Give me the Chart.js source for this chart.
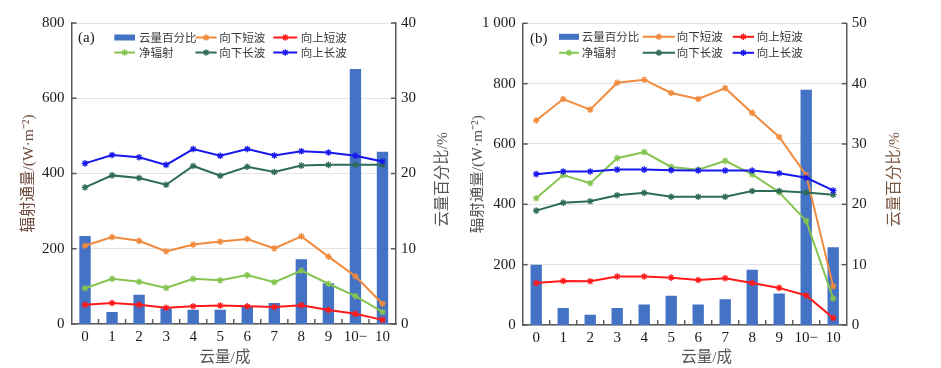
<!DOCTYPE html>
<html><head><meta charset="utf-8">
<script src="https://cdn.jsdelivr.net/npm/chart.js@4/dist/chart.umd.min.js"></script>
<style>
html,body{margin:0;padding:0;background:#fff;}
#wrap{position:relative;width:941px;height:368px;background:#fff;}
canvas{position:absolute;top:0;}
</style></head><body>
<div id="wrap">
<canvas id="ca" width="470" height="368" style="left:0px"></canvas>
<canvas id="cb" width="471" height="368" style="left:470px"></canvas>
</div>
<script>
// ---------- data ----------
const categories = ['0','1','2','3','4','5','6','7','8','9','10\u2212','10'];
const seriesLabels = ['云量百分比','向下短波','向上短波','净辐射','向下长波','向上长波'];
const xTitle = '云量/成';
const leftTitle = '辐射通量/(W·m⁻²)';
const rightTitle = '云量百分比/%';

// panel (a)
const cloudA   = [11.7, 1.6, 3.9, 2.1, 1.9, 1.9, 2.3, 2.8, 8.6, 5.4, 33.9, 22.9];
const swDownA  = [208, 231, 221, 193, 211, 219, 226, 201, 233, 179, 127, 54];
const swUpA    = [51, 56, 51, 43, 47, 49, 47, 45, 50, 37, 27, 11];
const netA     = [95, 120, 112, 96, 120, 116, 130, 111, 142, 107, 74, 32];
const lwDownA  = [363, 395, 388, 370, 420, 394, 418, 404, 421, 423, 423, 423];
const lwUpA    = [427, 449, 443, 423, 465, 447, 465, 448, 459, 456, 447, 432];
const leftTicksA  = ['0','200','400','600','800'];
const rightTicksA = ['0','10','20','30','40'];

// panel (b)
const cloudB   = [10.0, 2.8, 1.7, 2.8, 3.4, 4.85, 3.4, 4.25, 9.15, 5.2, 39.0, 12.9];
const swDownB  = [678, 749, 714, 803, 813, 769, 749, 785, 703, 623, 497, 128];
const swUpB    = [139, 146, 145, 161, 161, 157, 149, 155, 139, 123, 98, 23];
const netB     = [420, 497, 470, 553, 573, 524, 515, 544, 499, 440, 345, 88];
const lwDownB  = [379, 405, 410, 430, 438, 425, 425, 425, 444, 444, 439, 432];
const lwUpB    = [500, 509, 509, 515, 515, 513, 512, 512, 512, 503, 488, 446];
const leftTicksB  = ['0','200','400','600','800','1 000'];
const rightTicksB = ['0','10','20','30','40','50'];

// ---------- style ----------
const COLORS = ['#4472C4', '#F08A3C', '#FF1A1A', '#86C451', '#2E6B5B', '#1717EE'];
const AXIS = '#5a5a5a';
const NUMFONT = '"Liberation Serif", "Noto Sans CJK SC", serif';
const CJKFONT = '"Liberation Serif", "Noto Sans CJK SC", sans-serif';

function drawStar(ctx, x, y, r) {
  ctx.beginPath();
  for (let k = 0; k < 4; k++) {
    const a = k * Math.PI / 4;
    ctx.moveTo(x - r * Math.cos(a), y - r * Math.sin(a));
    ctx.lineTo(x + r * Math.cos(a), y + r * Math.sin(a));
  }
  ctx.stroke();
}

const deco = {
  id: 'deco',
  afterDraw(chart, args, o) {
    const ctx = chart.ctx, ca = chart.chartArea;
    const xs = chart.scales.x, ys = chart.scales.y, y1 = chart.scales.y1;
    ctx.save();
    ctx.strokeStyle = AXIS; ctx.lineWidth = 1.5;
    const seg = (a, b, c, d) => { ctx.beginPath(); ctx.moveTo(a, b); ctx.lineTo(c, d); ctx.stroke(); };
    ys.ticks.forEach(t => { const p = ys.getPixelForValue(t.value); seg(ca.left, p, ca.left + 5, p); });
    y1.ticks.forEach(t => { const p = y1.getPixelForValue(t.value); seg(ca.right - 5, p, ca.right, p); });
    for (let i = 0; i < categories.length - 1; i++) {
      const p = (xs.getPixelForValue(i) + xs.getPixelForValue(i + 1)) / 2;
      seg(p, ca.bottom - 5, p, ca.bottom);
    }
    // panel tag
    ctx.fillStyle = '#222'; ctx.textBaseline = 'middle'; ctx.textAlign = 'left';
    ctx.font = '15px ' + NUMFONT;
    ctx.fillText(o.tag, ca.left + o.tagX, ca.top + o.tagY);
    // legend
    chart.data.datasets.forEach((d, i) => {
      const col = i % 3, row = Math.floor(i / 3);
      const yy = ca.top + o.rows[row];
      const c = o.cols[col];
      if (d.type === 'bar') {
        ctx.fillStyle = d.backgroundColor;
        ctx.fillRect(ca.left + c[0], yy - 3, c[1] - c[0], 6);
      } else {
        ctx.strokeStyle = d.borderColor; ctx.lineWidth = 2;
        seg(ca.left + c[0], yy, ca.left + c[1], yy);
        ctx.lineWidth = 1.3;
        drawStar(ctx, ca.left + (c[0] + c[1]) / 2, yy, 3.2);
      }
      ctx.fillStyle = '#3a3a3a';
      ctx.font = '11.5px "Noto Sans CJK SC", sans-serif';
      ctx.textAlign = 'left'; ctx.textBaseline = 'middle';
      ctx.fillText(d.label, ca.left + c[2], yy);
    });
    // x title
    ctx.fillStyle = '#555'; ctx.textAlign = 'center'; ctx.textBaseline = 'middle';
    ctx.font = '15.5px ' + CJKFONT;
    ctx.fillText(xTitle, ca.left + o.xTitleX, o.xTitleY);
    // right title (reads bottom-to-top)
    ctx.save();
    ctx.translate(o.rTitleX, o.rTitleY);
    ctx.rotate(-Math.PI / 2);
    ctx.fillStyle = o.rightColor;
    ctx.fillText(rightTitle, 0, 0);
    ctx.restore();
    ctx.restore();
  }
};

function makeChart(id, cloud, swDown, swUp, net, lwDown, lwUp, leftMax, rightMax, leftTicks, rightTicks, cfg) {
  const lineDs = (label, data, color, order) => ({
    type: 'line', label, data, yAxisID: 'y', order,
    borderColor: color, backgroundColor: color, borderWidth: 2, tension: 0,
    pointStyle: 'star', pointRadius: 3.3, pointBorderWidth: 1.3,
    pointBorderColor: color, pointBackgroundColor: color, fill: false
  });
  return new Chart(document.getElementById(id), {
    type: 'bar',
    data: {
      labels: categories,
      datasets: [
        { type: 'bar', label: seriesLabels[0], data: cloud, yAxisID: 'y1', order: 10,
          backgroundColor: COLORS[0], barPercentage: 0.42, categoryPercentage: 1 },
        lineDs(seriesLabels[1], swDown, COLORS[1], 5),
        lineDs(seriesLabels[2], swUp, COLORS[2], 4),
        lineDs(seriesLabels[3], net, COLORS[3], 3),
        lineDs(seriesLabels[4], lwDown, COLORS[4], 2),
        lineDs(seriesLabels[5], lwUp, COLORS[5], 1)
      ]
    },
    options: {
      responsive: false, animation: false, devicePixelRatio: 1,
      layout: { padding: { top: cfg.top, left: 0, right: 0, bottom: 0 } },
      plugins: { legend: { display: false }, tooltip: { enabled: false }, deco: cfg.deco },
      scales: {
        x: {
          offset: true,
          grid: { display: false, drawTicks: false },
          border: { color: AXIS, width: 1.5 },
          ticks: { color: '#1a1a1a', padding: 4, font: { family: NUMFONT, size: 15 }, maxRotation: 0, autoSkip: false },
          afterFit: s => { s.height = cfg.xH; }
        },
        y: {
          position: 'left', min: 0, max: leftMax,
          grid: { color: '#e4e4e4', lineWidth: 1, drawTicks: false },
          border: { color: AXIS, width: 1.5 },
          ticks: { stepSize: 200, padding: 7, color: '#1a1a1a', font: { family: NUMFONT, size: 15 },
                   callback: (v, i) => leftTicks[i] },
          title: { display: true, text: leftTitle, color: cfg.leftColor,
                   font: { family: CJKFONT, size: 15.5, lineHeight: 1 }, padding: { top: cfg.leftPad, bottom: 0 } },
          afterFit: s => { s.width = cfg.leftW; }
        },
        y1: {
          position: 'right', min: 0, max: rightMax,
          grid: { display: false, drawTicks: false },
          border: { color: AXIS, width: 1.5 },
          ticks: { stepSize: 10, padding: 5, color: '#1a1a1a', font: { family: NUMFONT, size: 15 },
                   callback: (v, i) => rightTicks[i] },
          title: { display: false },
          afterFit: s => { s.width = cfg.rightW; }
        }
      }
    },
    plugins: [deco]
  });
}

makeChart('ca', cloudA, swDownA, swUpA, netA, lwDownA, lwUpA, 800, 40, leftTicksA, rightTicksA, {
  top: 23, xH: 44, leftW: 71.5, rightW: 74, leftPad: 21.5,
  leftColor: '#6e4a40',
  deco: { tag: '(a)', tagX: 6.5, tagY: 15,
          rows: [14.5, 29.5],
          cols: [[42.8, 63.5, 67.5], [124, 145.2, 147.8], [201.8, 225.8, 229.2]],
          xTitleX: 153.5, xTitleY: 358,
          rTitleX: 443, rTitleY: 179.5, rightColor: '#555555' }
});
makeChart('cb', cloudB, swDownB, swUpB, netB, lwDownB, lwUpB, 1000, 50, leftTicksB, rightTicksB, {
  top: 23.3, xH: 43, leftW: 52.7, rightW: 94.3, leftPad: 0,
  leftColor: '#555555',
  deco: { tag: '(b)', tagX: 7.3, tagY: 15.7,
          rows: [13.5, 29.5],
          cols: [[36.3, 56.3, 59], [120, 152.3, 154], [210, 231.3, 234]],
          xTitleX: 184, xTitleY: 358,
          rTitleX: 425, rTitleY: 179.5, rightColor: '#7a5640' }
});
</script>
</body></html>
